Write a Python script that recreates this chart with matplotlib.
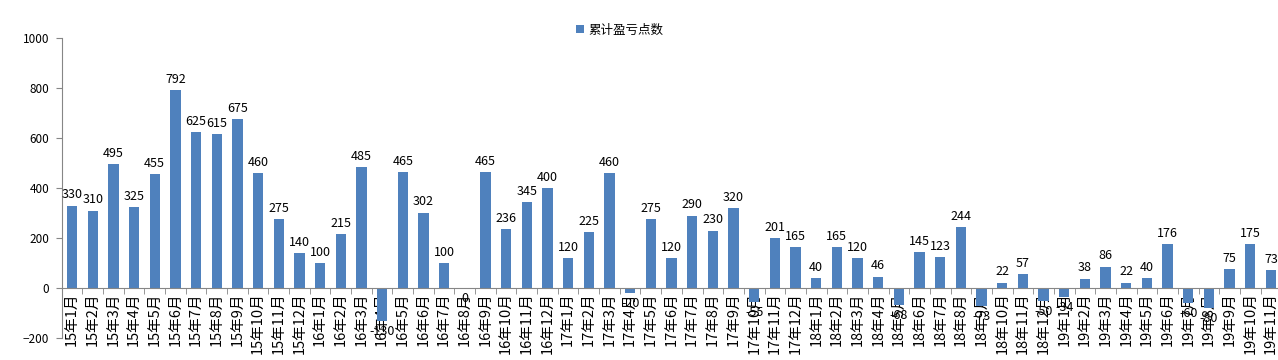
import numpy as np
import matplotlib.pyplot as plt
from matplotlib.ticker import FixedLocator, NullFormatter

plt.rcParams['font.family'] = ['Noto Sans CJK SC', 'DejaVu Sans']

years = ['15', '16', '17', '18', '19']
months = [f'{y}年{m}月' for y in years for m in range(1, 13)][:59]

values = [330, 310, 495, 325, 455, 792, 625, 615, 675, 460, 275, 140,
          100, 215, 485, -130, 465, 302, 100, 0, 465, 236, 345, 400,
          120, 225, 460, -20, 275, 120, 290, 230, 320, -55, 201, 165,
          40, 165, 120, 46, -68, 145, 123, 244, -73, 22, 57, -50,
          -34, 38, 86, 22, 40, 176, -60, -80, 75, 175, 73]

bar_color = '#4F81BD'
axis_color = '#868686'

fig = plt.figure(figsize=(12.78, 3.6), dpi=100)
ax = fig.add_axes([61.7 / 1278, 1 - 338 / 360, 1219.6 / 1278, 300 / 360])

x = np.arange(len(values))
ax.bar(x, values, width=0.5, color=bar_color, label='累计盈亏点数', zorder=2)

ax.set_xlim(-0.5, len(values) - 0.5)
ax.set_ylim(-200, 1000)
ax.set_yticks(np.arange(-200, 1001, 200))

# x axis sits on zero, labels hang down from it
ax.spines['bottom'].set_position(('data', 0))
ax.spines['bottom'].set_color(axis_color)
ax.spines['left'].set_color(axis_color)
ax.spines['top'].set_visible(False)
ax.spines['right'].set_visible(False)

ax.set_xticks(x)
ax.set_xticklabels(months, rotation=90, fontsize=10.5, va='top', ha='center')
ax.tick_params(axis='x', which='major', length=0, pad=3)
ax.xaxis.set_minor_locator(FixedLocator(np.arange(-0.5, len(values), 1.0)))
ax.xaxis.set_minor_formatter(NullFormatter())
ax.tick_params(axis='x', which='minor', length=4, color=axis_color, direction='out')
ax.tick_params(axis='y', length=4, color=axis_color, labelsize=8.5, pad=5)

for xi, v in zip(x, values):
    if v > 0:
        ax.annotate(str(v), (xi, v), xytext=(0, 3), textcoords='offset points',
                    ha='center', va='bottom', fontsize=9)
    else:
        ax.annotate(str(v), (xi, v), xytext=(0, -3), textcoords='offset points',
                    ha='center', va='top', fontsize=9)

fig.legend(loc='center', bbox_to_anchor=(620 / 1278, 1 - 30 / 360), frameon=False,
           fontsize=9, handlelength=0.6, handleheight=0.6, handletextpad=0.4)

fig.savefig('out.png', dpi=100)
